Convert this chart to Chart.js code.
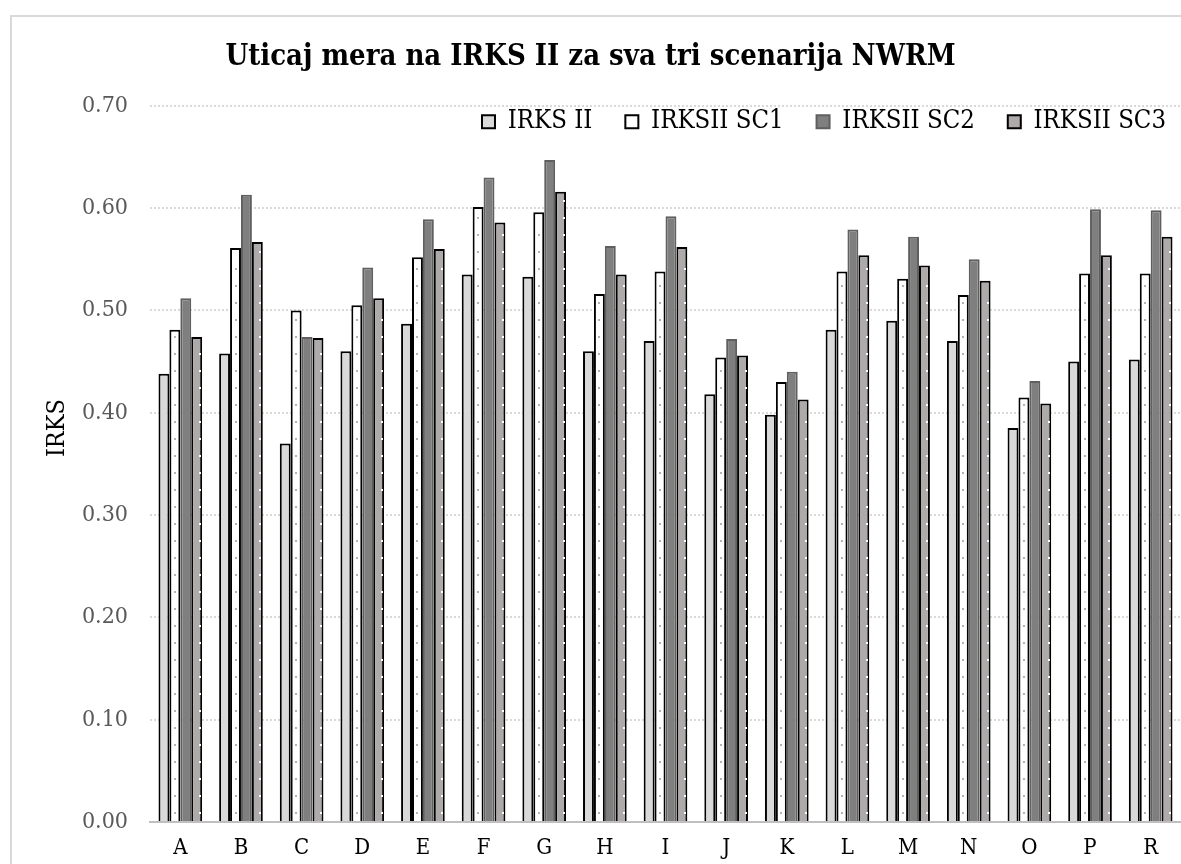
<!DOCTYPE html>
<html>
<head>
<meta charset="utf-8">
<script src="https://cdn.jsdelivr.net/npm/chart.js@4.4.1/dist/chart.umd.min.js"></script>
<style>
  html, body { margin: 0; padding: 0; background: #fff; }
  #frame { position: absolute; left: 10px; top: 15px; width: 1200px; height: 900px; border: 2px solid #d9d9d9; }
  #wrap { position: absolute; left: 0; top: 0; width: 1181px; height: 864px; }
</style>
</head>
<body>
<div id="frame"></div>
<div id="wrap"><canvas id="irksChart" width="1181" height="864"></canvas></div>
<script>
const categories = ['A', 'B', 'C', 'D', 'E', 'F', 'G', 'H', 'I', 'J', 'K', 'L', 'M', 'N', 'O', 'P', 'R'];
const irks2 = [0.438, 0.458, 0.370, 0.460, 0.487, 0.535, 0.533, 0.460, 0.470, 0.418, 0.398, 0.481, 0.490, 0.470, 0.385, 0.450, 0.452];
const irksSc1 = [0.481, 0.561, 0.500, 0.505, 0.552, 0.601, 0.596, 0.516, 0.538, 0.454, 0.430, 0.538, 0.531, 0.515, 0.415, 0.536, 0.536];
const irksSc2 = [0.512, 0.613, 0.474, 0.542, 0.589, 0.630, 0.647, 0.563, 0.592, 0.472, 0.440, 0.579, 0.572, 0.550, 0.431, 0.599, 0.598];
const irksSc3 = [0.474, 0.567, 0.473, 0.512, 0.560, 0.586, 0.616, 0.535, 0.562, 0.456, 0.413, 0.554, 0.544, 0.529, 0.409, 0.554, 0.572];
const yTicks = [0, 0.1, 0.2, 0.3, 0.4, 0.5, 0.6, 0.7];

const serif = "'DejaVu Serif Condensed', 'DejaVu Serif', serif";

// small dotted column inside the SC1 / SC3 bars
const barDots = {
  id: 'barDots',
  afterDatasetsDraw(chart) {
    const ctx = chart.ctx;
    const styles = { 1: { color: '#b3b3b3', dx: -1 }, 3: { color: '#ffffff', dx: 2 } };
    Object.keys(styles).forEach(i => {
      const meta = chart.getDatasetMeta(+i);
      const s = styles[i];
      ctx.save();
      ctx.fillStyle = s.color;
      meta.data.forEach(bar => {
        for (let y = bar.base - 9; y > bar.y + 6; y -= 17) {
          ctx.fillRect(Math.round(bar.x + s.dx), Math.round(y), 2, 2);
        }
      });
      ctx.restore();
    });
  }
};

// legend sits inside the plot, just under the 0.70 gridline
const legendShift = {
  id: 'legendShift',
  afterLayout(chart) {
    const lg = chart.legend;
    lg.top = 76; lg.bottom = 150;
    lg.left += 18; lg.right += 18;
  }
};

// vertical axis caption, placed a bit above the axis middle
const axisCaption = {
  id: 'axisCaption',
  afterDraw(chart) {
    const ctx = chart.ctx;
    ctx.save();
    ctx.translate(57, 428);
    ctx.rotate(-Math.PI / 2);
    ctx.fillStyle = '#000';
    ctx.font = "25px " + serif;
    ctx.textAlign = 'center';
    ctx.textBaseline = 'middle';
    ctx.fillText('IRKS', 0, 0);
    ctx.restore();
  }
};

new Chart(document.getElementById('irksChart').getContext('2d'), {
  type: 'bar',
  data: {
    labels: categories,
    datasets: [
      { label: 'IRKS II', data: irks2, backgroundColor: '#d9d9d9', borderColor: '#000000', borderWidth: 2 },
      { label: 'IRKSII SC1', data: irksSc1, backgroundColor: '#ffffff', borderColor: '#000000', borderWidth: 2 },
      { label: 'IRKSII SC2', data: irksSc2, backgroundColor: '#7f7f7f', borderColor: '#5f5f5f', borderWidth: 2 },
      { label: 'IRKSII SC3', data: irksSc3, backgroundColor: '#aeaaaa', borderColor: '#000000', borderWidth: 2 }
    ]
  },
  options: {
    responsive: false,
    animation: false,
    layout: { padding: 0 },
    datasets: { bar: { barPercentage: 1, categoryPercentage: 0.72 } },
    plugins: {
      title: {
        display: true,
        text: 'Uticaj mera na IRKS II za sva tri scenarija NWRM',
        color: '#000',
        font: { family: serif, size: 29, weight: 'bold' },
        padding: { top: 40, bottom: 30 }
      },
      legend: {
        position: 'top',
        align: 'end',
        maxHeight: 1,
        labels: {
          boxWidth: 13,
          boxHeight: 13,
          padding: 33,
          color: '#000',
          font: { family: serif, size: 25.5 }
        }
      },
      tooltip: { enabled: false }
    },
    scales: {
      x: {
        grid: { display: false, drawTicks: false },
        border: { display: true, color: '#bfbfbf', width: 2 },
        ticks: { color: '#000', font: { family: serif, size: 22 }, padding: 13 },
        afterFit(scale) { scale.height = 42; }
      },
      y: {
        min: 0,
        max: 0.7,
        afterBuildTicks(scale) { scale.ticks = yTicks.map(v => ({ value: v })); },
        grid: { color: '#d9d9d9', lineWidth: 2, drawTicks: false },
        border: { display: false, dash: [2, 2] },
        ticks: {
          color: '#595959',
          font: { family: serif, size: 23 },
          padding: 22,
          callback: v => v.toFixed(2)
        },
        afterFit(scale) { scale.width = 150; }
      }
    }
  },
  plugins: [barDots, legendShift, axisCaption]
});
</script>
</body>
</html>
